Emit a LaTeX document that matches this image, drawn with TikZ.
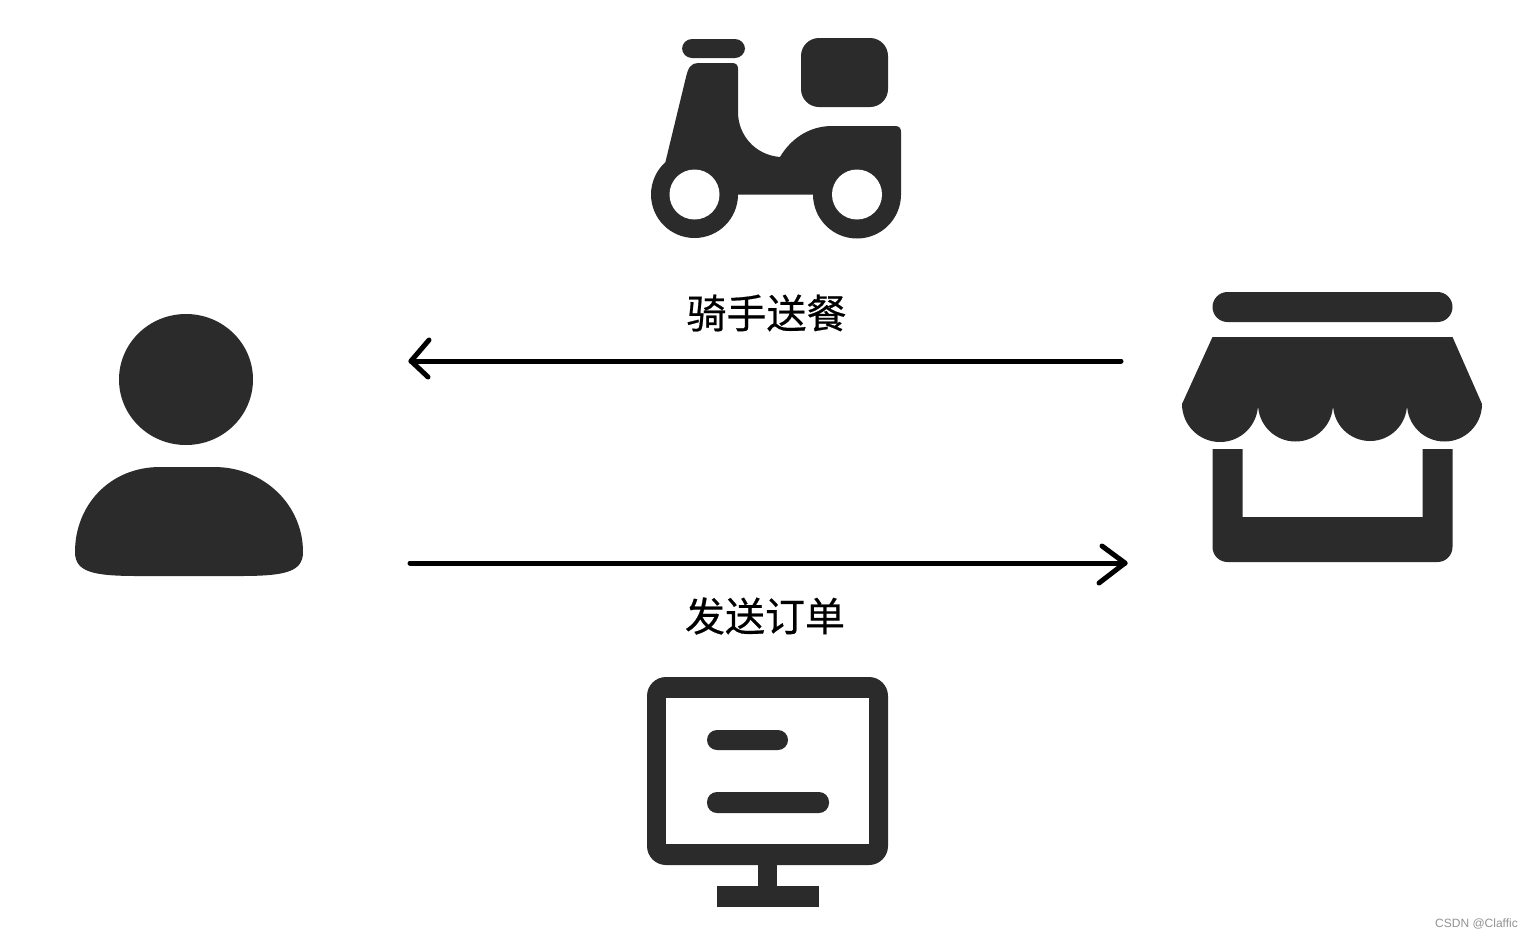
\documentclass[tikz,border=0pt]{standalone}
\usepackage{fontspec}
\newfontfamily\cjk[FakeBold=0.5]{Noto Sans CJK SC}
\setsansfont{Liberation Sans}
\definecolor{icon}{HTML}{2B2B2B}
\tikzset{
  iconfill/.style={fill=icon,draw=none},
  hole/.style={fill=white,draw=none},
  flow/.style={draw=black,line width=5pt,line cap=round,line join=round},
  caption/.style={font=\cjk\fontsize{40}{40}\selectfont,inner sep=0pt,text=black},
  watermark/.style={font=\sffamily\fontsize{12}{12}\selectfont,text=gray!85,inner sep=0pt,anchor=east}
}
\begin{document}
\begin{tikzpicture}[x=1pt,y=1pt,yscale=-1]
\useasboundingbox (0,0) rectangle (1533,938);
\fill[white] (0,0) rectangle (1533,938);
% scooter
\fill[iconfill,rounded corners=10pt] (682,39) rectangle (745,58);
\fill[iconfill,rounded corners=18pt] (801,38) rectangle (888,107);
\fill[iconfill] (698,63) -- (732,63) .. controls (736,63) and (738,65) .. (738,69) -- (738,112)
  .. controls (738,135) and (755,155) .. (780,157)
  .. controls (790,140) and (808,126) .. (832,126) -- (895,126)
  .. controls (899,126) and (901,128) .. (901,132) -- (901,194.5)
  arc[start angle=0,end angle=180,radius=44pt] -- (738,194.5)
  arc[start angle=0,end angle=228,radius=43.5pt] -- (686,77)
  .. controls (688,68) and (691,63) .. (698,63) -- cycle;
\fill[hole] (694.5,194.5) circle[radius=25pt];
\fill[hole] (857,194.5) circle[radius=25pt];
% store
\fill[iconfill,rounded corners=15pt] (1212.5,292) rectangle (1452.5,322);
\fill[iconfill] (1212.5,337) -- (1452.5,337) -- (1482,404)
  arc[start angle=0,end angle=180,radius=37.5pt]
  arc[start angle=0,end angle=180,radius=37pt]
  arc[start angle=0,end angle=180,radius=37.5pt]
  arc[start angle=0,end angle=180,radius=38pt] -- cycle;
\fill[iconfill] (1212.5,449) -- (1242.5,449) -- (1242.5,517) -- (1422.5,517) -- (1422.5,449) -- (1452.5,449)
  -- (1452.5,547) arc[start angle=0,end angle=90,radius=15pt] -- (1227.5,562)
  arc[start angle=90,end angle=180,radius=15pt] -- cycle;
% monitor
\fill[iconfill,rounded corners=19pt] (647,677) rectangle (888,865);
\fill[hole] (666,698) rectangle (869,844);
\fill[iconfill] (758,860) rectangle (777,890);
\fill[iconfill] (717,886) rectangle (819,907);
\fill[iconfill,rounded corners=10pt] (707,730) rectangle (788,750);
\fill[iconfill,rounded corners=10pt] (707,792) rectangle (829,813);
% person
\fill[iconfill] (186,379.5) ellipse[x radius=67pt,y radius=65.5pt];
\fill[iconfill] (160,467) -- (214,467) .. controls (264,467) and (303,505) .. (303,552)
  .. controls (303,572) and (285,576) .. (240,576) -- (138,576)
  .. controls (93,576) and (75,572) .. (75,552)
  .. controls (75,505) and (110,467) .. (160,467) -- cycle;
% connectors
\coordinate (storeOut) at (1121,361);
\coordinate (userIn) at (411,361);
\coordinate (userOut) at (410,563);
\coordinate (storeIn) at (1125,563);
\draw[flow] (storeOut) -- (userIn);
\draw[flow] (429,340) -- (userIn) -- (428,377);
\draw[flow] (userOut) -- (storeIn);
\draw[flow] (1102,546) -- (storeIn) -- (1099,583);
% labels
\node[caption] (rider) at (766.5,313) {骑手送餐};
\node[caption] (order) at (765,616) {发送订单};
\node[watermark] (wm) at (1518,924) {CSDN @Claffic};
\end{tikzpicture}
\end{document}
